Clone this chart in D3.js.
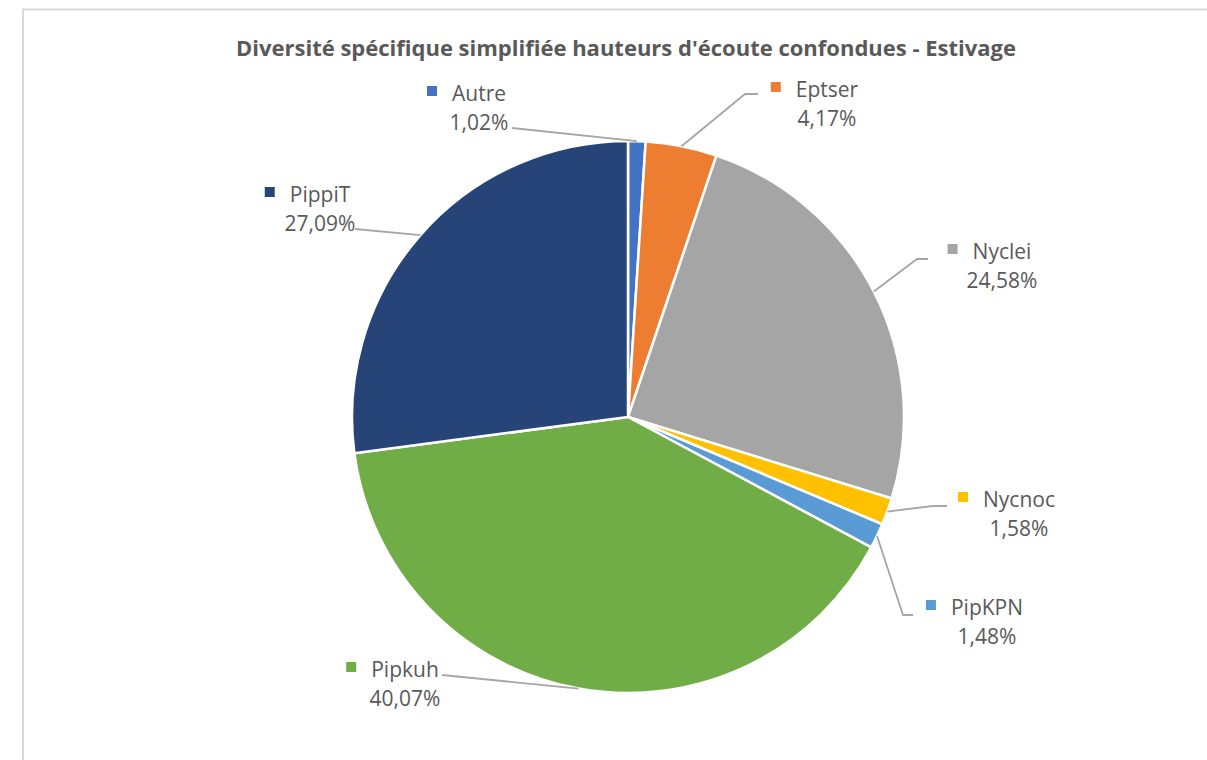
<!DOCTYPE html>
<html>
<head>
<meta charset="utf-8">
<script src="https://cdn.jsdelivr.net/npm/d3@7"></script>
<style>
  html, body { margin: 0; padding: 0; background: #fff; }
  svg { display: block; }
  text { font-family: "Open Sans", sans-serif; fill: #595959; }
</style>
</head>
<body>
<script>
const width = 1207;
const height = 760;

// data
const species = ['Autre', 'Eptser', 'Nyclei', 'Nycnoc', 'PipKPN', 'Pipkuh', 'PippiT'];
const shares = [1.02, 4.17, 24.58, 1.58, 1.48, 40.07, 27.09];
const sliceColors = ['#4472C4', '#ED7D31', '#A5A5A5', '#FFC000', '#5B9BD5', '#70AD47', '#264478'];
const title = "Diversité spécifique simplifiée hauteurs d'écoute confondues - Estivage";

// label layout: name centre x, name baseline y, leader line points (label side)
const labelLayout = {
  Autre:  { x: 479, y: 101, line: [[512, 128]] },
  Eptser: { x: 827, y: 97,  line: [[745, 94], [758, 94]] },
  Nyclei: { x: 1002, y: 259, line: [[917, 259], [928, 259]] },
  Nycnoc: { x: 1019, y: 507, line: [[933, 506], [947, 506]] },
  PipKPN: { x: 987, y: 615, line: [[903, 615], [913, 615]] },
  Pipkuh: { x: 405, y: 677, line: [[442, 675]] },
  PippiT: { x: 320, y: 202, line: [[355, 229]] }
};

const cx = 628, cy = 417, radius = 276;

const svg = d3.select('body').append('svg')
  .attr('width', width)
  .attr('height', height);

// chart frame
svg.append('rect')
  .attr('x', 23).attr('y', 9.5)
  .attr('width', 1400).attr('height', 1000)
  .attr('fill', '#fff')
  .attr('stroke', '#d9d9d9')
  .attr('stroke-width', 2);

svg.append('text')
  .attr('x', 626)
  .attr('y', 56)
  .attr('text-anchor', 'middle')
  .style('font-size', '22px')
  .style('font-weight', 'bold')
  .text(title);

const color = d3.scaleOrdinal().domain(species).range(sliceColors);

const data = species.map((s, i) => ({ name: s, value: shares[i] }));

const pie = d3.pie()
  .sort(null)
  .value(d => d.value);

const arc = d3.arc().innerRadius(0).outerRadius(radius);

const arcs = pie(data);

const g = svg.append('g')
  .attr('transform', `translate(${cx}, ${cy})`);

g.selectAll('path.slice')
  .data(arcs)
  .enter().append('path')
    .attr('class', 'slice')
    .attr('d', arc)
    .attr('fill', d => color(d.data.name))
    .attr('stroke', '#fff')
    .attr('stroke-width', 2.5)
    .attr('stroke-linejoin', 'round');

// leader lines
const line = d3.line();
svg.append('g')
  .selectAll('path')
  .data(arcs)
  .enter().append('path')
    .attr('fill', 'none')
    .attr('stroke', '#a6a6a6')
    .attr('stroke-width', 1.8)
    .attr('d', d => {
      const a = (d.startAngle + d.endAngle) / 2;
      const start = [cx + radius * Math.sin(a), cy - radius * Math.cos(a)];
      return line([start].concat(labelLayout[d.data.name].line));
    });

// labels
const fmt = v => d3.format('.2f')(v).replace('.', ',') + '%';

const labels = svg.append('g')
  .selectAll('g')
  .data(arcs)
  .enter().append('g');

labels.append('text')
  .attr('class', 'name')
  .attr('x', d => labelLayout[d.data.name].x)
  .attr('y', d => labelLayout[d.data.name].y)
  .attr('text-anchor', 'middle')
  .style('font-size', '21px')
  .text(d => d.data.name);

labels.append('text')
  .attr('x', d => labelLayout[d.data.name].x)
  .attr('y', d => labelLayout[d.data.name].y + 28.5)
  .attr('text-anchor', 'middle')
  .style('font-size', '21px')
  .text(d => fmt(d.data.value));

labels.each(function (d) {
  const sel = d3.select(this);
  const w = sel.select('text.name').node().getComputedTextLength();
  const lay = labelLayout[d.data.name];
  sel.append('rect')
    .attr('x', lay.x - w / 2 - 25)
    .attr('y', lay.y - 15)
    .attr('width', 10)
    .attr('height', 10)
    .attr('fill', color(d.data.name));
});
</script>
</body>
</html>
